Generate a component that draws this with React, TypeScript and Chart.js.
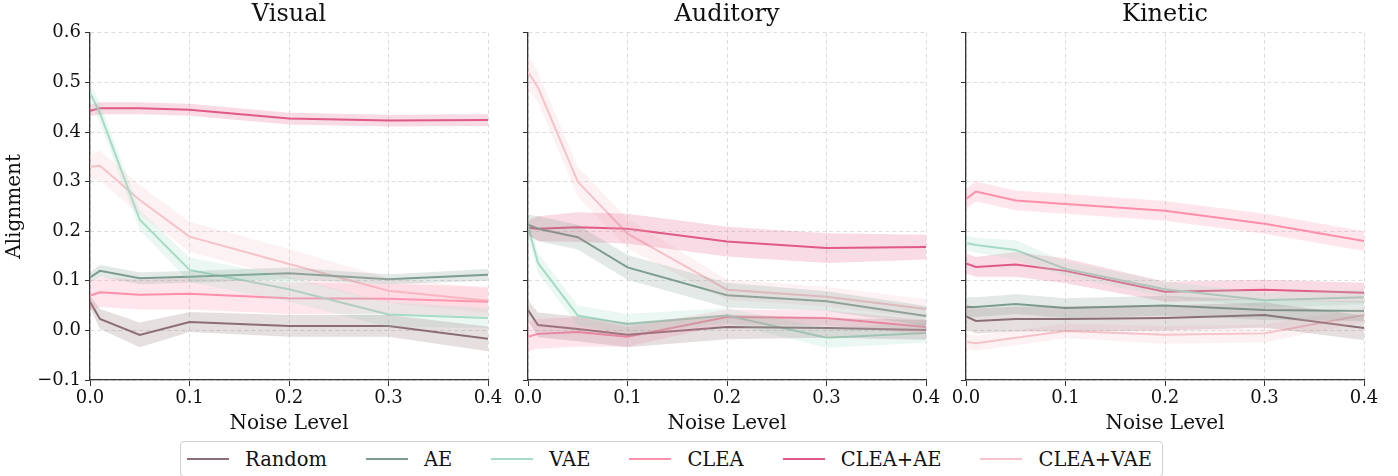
import React, { useEffect, useRef } from "react";
import { Chart, registerables } from "chart.js";

Chart.register(...registerables);

const noiseLevels = [0, 0.01, 0.05, 0.1, 0.2, 0.3, 0.4];
const xTicks = [0, 0.1, 0.2, 0.3, 0.4];
const yTicks = [-0.1, 0, 0.1, 0.2, 0.3, 0.4, 0.5, 0.6];
const panelTitles = ["Visual", "Auditory", "Kinetic"];
const seriesNames = ["Random", "AE", "VAE", "CLEA", "CLEA+AE", "CLEA+VAE"];
const seriesColors = ["#8b6f74", "#7d9d8f", "#a6dcc6", "#ff8fab", "#e05a83", "#f7c2c9"];

// Visual
const visualRandom = [0.058, 0.023, -0.009, 0.017, 0.009, 0.009, -0.017];
const visualAE = [0.107, 0.12, 0.105, 0.108, 0.115, 0.103, 0.112];
const visualVAE = [0.479, 0.438, 0.223, 0.122, 0.083, 0.032, 0.025];
const visualCLEA = [0.07, 0.077, 0.072, 0.074, 0.065, 0.064, 0.058];
const visualCLEAAE = [0.443, 0.448, 0.448, 0.445, 0.427, 0.423, 0.424];
const visualCLEAVAE = [0.33, 0.332, 0.263, 0.189, 0.134, 0.08, 0.06];
const visualRandomErr = [0.012, 0.02, 0.025, 0.02, 0.022, 0.022, 0.025];
const visualAEErr = [0.01, 0.012, 0.012, 0.012, 0.012, 0.01, 0.012];
const visualVAEErr = [0.02, 0.02, 0.02, 0.025, 0.025, 0.025, 0.02];
const visualCLEAErr = [0.03, 0.03, 0.03, 0.032, 0.032, 0.03, 0.03];
const visualCLEAAEErr = [0.012, 0.012, 0.012, 0.012, 0.012, 0.012, 0.012];
const visualCLEAVAEErr = [0.025, 0.03, 0.03, 0.03, 0.03, 0.025, 0.025];

// Auditory
const auditoryRandom = [0.041, 0.011, 0.003, -0.009, 0.007, 0.005, 0.001];
const auditoryAE = [0.213, 0.205, 0.188, 0.127, 0.071, 0.059, 0.029];
const auditoryVAE = [0.21, 0.136, 0.03, 0.013, 0.03, -0.015, -0.005];
const auditoryCLEA = [-0.013, -0.007, -0.003, -0.013, 0.027, 0.025, 0.007];
const auditoryCLEAAE = [0.207, 0.205, 0.208, 0.205, 0.179, 0.166, 0.168];
const auditoryCLEAVAE = [0.521, 0.49, 0.3, 0.195, 0.082, 0.068, 0.043];
const auditoryRandomErr = [0.02, 0.025, 0.025, 0.025, 0.025, 0.02, 0.02];
const auditoryAEErr = [0.02, 0.025, 0.025, 0.025, 0.025, 0.02, 0.02];
const auditoryVAEErr = [0.02, 0.02, 0.02, 0.02, 0.015, 0.02, 0.02];
const auditoryCLEAErr = [0.03, 0.03, 0.03, 0.02, 0.015, 0.015, 0.015];
const auditoryCLEAAEErr = [0.015, 0.025, 0.03, 0.03, 0.03, 0.03, 0.025];
const auditoryCLEAVAEErr = [0.035, 0.03, 0.03, 0.03, 0.02, 0.02, 0.02];

// Kinetic
const kineticRandom = [0.028, 0.019, 0.023, 0.023, 0.025, 0.031, 0.005];
const kineticAE = [0.047, 0.047, 0.053, 0.045, 0.05, 0.041, 0.039];
const kineticVAE = [0.176, 0.172, 0.162, 0.124, 0.083, 0.061, 0.067];
const kineticCLEA = [0.265, 0.28, 0.262, 0.255, 0.241, 0.215, 0.18];
const kineticCLEAAE = [0.135, 0.128, 0.133, 0.12, 0.078, 0.082, 0.076];
const kineticCLEAVAE = [-0.023, -0.026, -0.015, -0.001, -0.009, -0.006, 0.031];
const kineticRandomErr = [0.025, 0.025, 0.025, 0.025, 0.025, 0.025, 0.025];
const kineticAEErr = [0.02, 0.02, 0.02, 0.02, 0.02, 0.02, 0.02];
const kineticVAEErr = [0.015, 0.015, 0.02, 0.015, 0.015, 0.015, 0.015];
const kineticCLEAErr = [0.02, 0.02, 0.02, 0.02, 0.02, 0.02, 0.02];
const kineticCLEAAEErr = [0.02, 0.02, 0.025, 0.025, 0.02, 0.02, 0.02];
const kineticCLEAVAEErr = [0.015, 0.015, 0.015, 0.015, 0.018, 0.018, 0.015];

const panelMeans = [
  [visualRandom, visualAE, visualVAE, visualCLEA, visualCLEAAE, visualCLEAVAE],
  [auditoryRandom, auditoryAE, auditoryVAE, auditoryCLEA, auditoryCLEAAE, auditoryCLEAVAE],
  [kineticRandom, kineticAE, kineticVAE, kineticCLEA, kineticCLEAAE, kineticCLEAVAE],
];
const panelErrs = [
  [visualRandomErr, visualAEErr, visualVAEErr, visualCLEAErr, visualCLEAAEErr, visualCLEAVAEErr],
  [auditoryRandomErr, auditoryAEErr, auditoryVAEErr, auditoryCLEAErr, auditoryCLEAAEErr, auditoryCLEAVAEErr],
  [kineticRandomErr, kineticAEErr, kineticVAEErr, kineticCLEAErr, kineticCLEAAEErr, kineticCLEAVAEErr],
];

const FONT = "'DejaVu Serif', serif";

function hexA(hex: string, a: number) {
  const r = parseInt(hex.slice(1, 3), 16);
  const g = parseInt(hex.slice(3, 5), 16);
  const b = parseInt(hex.slice(5, 7), 16);
  return `rgba(${r},${g},${b},${a})`;
}

function fmt(v: number) {
  const s = Math.abs(v) < 1e-9 ? "0.0" : Math.abs(v).toFixed(1);
  return v < -1e-9 ? "\u2212" + s : s;
}

function Panel({ index, left, width, yAxisWidth }: { index: number; left: number; width: number; yAxisWidth: number }) {
  const ref = useRef<HTMLCanvasElement>(null);
  useEffect(() => {
    const means = panelMeans[index];
    const errs = panelErrs[index];
    const datasets: any[] = [];
    means.forEach((m, si) => {
      const color = seriesColors[si];
      const lower = m.map((v, i) => ({ x: noiseLevels[i], y: v - errs[si][i] }));
      const upper = m.map((v, i) => ({ x: noiseLevels[i], y: v + errs[si][i] }));
      datasets.push({
        label: seriesNames[si] + " lower",
        data: lower,
        borderWidth: 0,
        pointRadius: 0,
        fill: false,
        tension: 0,
      });
      datasets.push({
        label: seriesNames[si] + " upper",
        data: upper,
        borderWidth: 0,
        pointRadius: 0,
        fill: "-1",
        backgroundColor: hexA(color, 0.22),
        tension: 0,
      });
    });
    means.forEach((m, si) => {
      datasets.push({
        label: seriesNames[si],
        data: m.map((v, i) => ({ x: noiseLevels[i], y: v })),
        borderColor: seriesColors[si],
        backgroundColor: seriesColors[si],
        borderWidth: 2,
        pointRadius: 0,
        fill: false,
        tension: 0,
      });
    });

    const chart = new Chart(ref.current!, {
      type: "line",
      data: { datasets },
      options: {
        animation: false,
        responsive: false,
        maintainAspectRatio: false,
        events: [],
        layout: { padding: { right: 22, left: 0, top: 0, bottom: 0 } },
        plugins: {
          legend: { display: false },
          tooltip: { enabled: false },
          title: {
            display: true,
            text: panelTitles[index],
            fullSize: false,
            color: "#111",
            font: { family: FONT, size: 24, weight: "normal", lineHeight: 1.2 },
            padding: { top: 0, bottom: 4 },
          },
        },
        scales: {
          x: {
            type: "linear",
            min: 0,
            max: 0.4,
            afterBuildTicks: (s: any) => {
              s.ticks = xTicks.map((v) => ({ value: v }));
            },
            afterFit: (s: any) => {
              s.height = 56;
            },
            ticks: {
              color: "#111",
              font: { family: FONT, size: 18 },
              padding: 2,
              maxRotation: 0,
              callback: (v: any) => fmt(Number(v)),
            },
            grid: {
              color: "#dddddd",
              lineWidth: 1,
              drawTicks: true,
              tickLength: 6,
              tickColor: "#333",
              tickBorderDash: [],
            },
            border: { display: true, color: "#333", width: 1.3, dash: [4, 3] },
            title: {
              display: true,
              text: "Noise Level",
              color: "#111",
              font: { family: FONT, size: 20 },
              padding: { top: 0, bottom: 0 },
            },
          },
          y: {
            type: "linear",
            min: -0.1,
            max: 0.6,
            afterBuildTicks: (s: any) => {
              s.ticks = yTicks.map((v) => ({ value: v }));
            },
            afterFit: (s: any) => {
              s.width = yAxisWidth;
            },
            ticks: {
              color: "#111",
              font: { family: FONT, size: 18 },
              padding: 4,
              callback: (v: any) => (index === 0 ? fmt(Number(v)) : ""),
            },
            grid: {
              color: "#dddddd",
              lineWidth: 1,
              drawTicks: true,
              tickLength: 5,
              tickColor: "#333",
              tickBorderDash: [],
            },
            border: { display: true, color: "#333", width: 1.3, dash: [4, 3] },
            title: {
              display: index === 0,
              text: "Alignment",
              color: "#111",
              font: { family: FONT, size: 20 },
              padding: { top: 3, bottom: 0 },
            },
          },
        },
      },
    });
    return () => chart.destroy();
  }, []);
  return (
    <canvas
      ref={ref}
      width={width}
      height={436}
      style={{ position: "absolute", left, top: 0, width, height: 436 }}
    />
  );
}

function Legend() {
  return (
    <div
      style={{
        position: "absolute",
        left: 180,
        top: 441,
        height: 36,
        display: "flex",
        alignItems: "center",
        border: "1px solid #d0d0d0",
        borderRadius: 4,
        padding: "0 10px 0 6px",
        boxSizing: "border-box",
        fontFamily: FONT,
        fontSize: 19.5,
        color: "#111",
        background: "white",
      }}
    >
      {seriesNames.map((n, i) => (
        <div key={n} style={{ display: "flex", alignItems: "center", marginLeft: i === 0 ? 0 : 39 }}>
          <div style={{ width: 42, height: 2, background: seriesColors[i] }} />
          <span style={{ marginLeft: 16, whiteSpace: "nowrap" }}>{n}</span>
        </div>
      ))}
    </div>
  );
}

export default function App() {
  return (
    <div style={{ position: "fixed", left: 0, top: 0, width: 1398, height: 476, background: "white", overflow: "hidden" }}>
      <Panel index={0} left={0} width={510} yAxisWidth={90} />
      <Panel index={1} left={508} width={440} yAxisWidth={20} />
      <Panel index={2} left={946} width={440} yAxisWidth={20} />
      <Legend />
    </div>
  );
}
